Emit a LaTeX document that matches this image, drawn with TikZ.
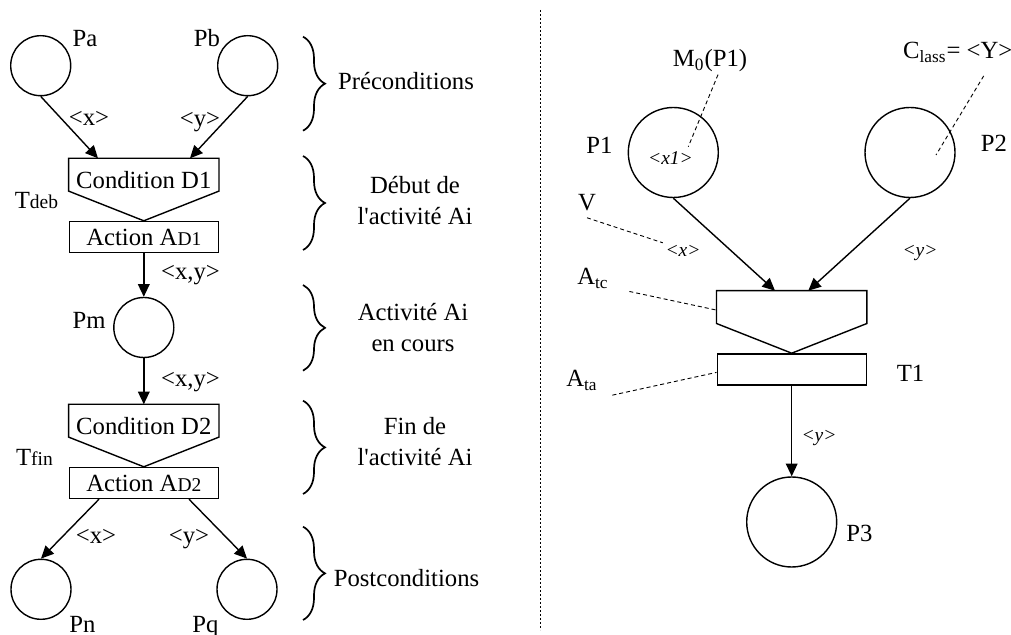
\documentclass[tikz,border=0pt]{standalone}
\usepackage{fontspec}
\setmainfont{Liberation Serif}
\usetikzlibrary{arrows.meta,positioning,decorations.pathreplacing}
\newcommand{\petit}{\fontsize{9.75}{11}\selectfont}

\begin{document}
\begin{tikzpicture}[x=0.5pt,y=-0.5pt,line width=0.7pt,
        font=\fontsize{12.35}{15.5}\selectfont,
        place/.style={draw,circle,inner sep=0pt,minimum size=30pt},
        bigplace/.style={draw,circle,inner sep=0pt,minimum size=45pt},
        cond/.style={anchor=north,inner sep=0pt,minimum width=74.5pt,text height=14.8pt,text depth=0.9pt},
        action/.style={draw,inner sep=0pt,minimum width=74.5pt,minimum height=15.5pt},
        txt/.style={anchor=base,inner sep=1pt},
        val/.style={anchor=base,inner sep=1pt,font=\petit\itshape},
        flow/.style={-{Triangle[length=6.3pt,width=5.8pt]}},
        dline/.style={line width=0.45pt,dash pattern=on 2pt off 1.5pt},
        brc/.style={line width=0.85pt,decorate,decoration={brace,amplitude=11pt}}]
        \useasboundingbox (0,0) rectangle (1011,635);
        \draw (40.7,65.7)  node[place] (pa) {};
        \draw (247.7,65.7) node[place] (pb) {};
        \draw (143.8,327.5) node[place] (pm) {};
        \draw (41,589.3)   node[place] (pn) {};
        \draw (247,589.3)  node[place] (pq) {};
        \node[cond] (cd1) at (143.8,158.3) {Condition D1};
        \node[action,below=14.85pt of cd1] (ad1) {Action A{\petit D1}};
        \node[cond] (cd2) at (143.8,404.3) {Condition D2};
        \node[action,below=14.85pt of cd2] (ad2) {Action A{\petit D2}};
        \node[txt] (lpa) at (85,47) {Pa};
        \node[txt] (lpb) at (207,47) {Pb};
        \node[txt] (lpm) at (89,328.5) {Pm};
        \node[txt] (lpn) at (82.5,632) {Pn};
        \node[txt] (lpq) at (205.5,632) {Pq};
        \node[txt] (tdeb) at (36.5,208.3) {T{\petit deb}};
        \node[txt] (tfin) at (34.5,465.7) {T{\petit fin}};
        \node[txt] (lxa) at (89,126) {<x>};
        \node[txt] (lya) at (200,127) {<y>};
        \node[txt] (lxy1) at (190.5,279.5) {<x,y>};
        \node[txt] (lxy2) at (190.5,386.5) {<x,y>};
        \node[txt] (lxn) at (96,543.5) {<x>};
        \node[txt] (lyq) at (189,543.5) {<y>};
        \draw[flow] (pa.south) -- ([xshift=-22.9pt]cd1.north);
        \draw[flow] (pb.south) -- ([xshift=23.1pt]cd1.north);
        \draw (cd1.south west) -- (cd1.north west) -- (cd1.north east) -- (cd1.south east) -- (ad1.north) -- cycle;
        \draw[flow] (ad1.south) -- (pm.north);
        \draw[flow] (pm.south) -- (cd2.north);
        \draw (cd2.south west) -- (cd2.north west) -- (cd2.north east) -- (cd2.south east) -- (ad2.north) -- cycle;
        \draw[flow] ([xshift=-22.4pt]ad2.south) -- (pn.north);
        \draw[flow] ([xshift=22.6pt]ad2.south) -- (pq.north);
        \draw[brc] (303,36.7) -- (303,130.7);
        \draw[brc] (303,156) -- (303,250);
        \draw[brc] (303,285) -- (303,370.7);
        \draw[brc] (303,400.7) -- (303,494);
        \draw[brc] (303,526.7) -- (303,620);
        \node[txt] (pre) at (406,90) {Préconditions};
        \node[align=center] (deb) at (415,200.6) {Début de\\l\textquotesingle activité Ai};
        \node[align=center] (enc) at (413,327.3) {Activité Ai\\en cours};
        \node[align=center] (fin) at (415,442) {Fin de\\l\textquotesingle activité Ai};
        \node[txt] (post) at (406.5,586) {Postconditions};
        \draw[line width=0.5pt,dash pattern=on 1.2pt off 0.8pt] (540,10) -- (540,630);
        \draw (673.3,152.5) node[bigplace] (p1) {};
        \draw (910,152.5)   node[bigplace] (p2) {};
        \draw (791.7,522)   node[bigplace] (p3) {};
        \node[cond] (ct1) at (791.7,290.7) {};
        \node[action,below=14.85pt of ct1] (at1) {};
        \node[txt] (m0) at (710,66.7) {M\textsubscript{0}(P1)};
        \node[txt] (cls) at (957.7,58.3) {C\textsubscript{lass}= <Y>};
        \node[txt] (lp1) at (599.5,153.5) {P1};
        \node[txt] (lp2) at (994,152) {P2};
        \node[val] (x1) at (670.5,165) {<x1>};
        \node[txt] (vlab) at (587,210.7) {V};
        \node[val] (lx) at (683,256.7) {<x>};
        \node[val] (ly) at (920,256.7) {<y>};
        \node[txt] (atc) at (593,285) {A\textsubscript{tc}};
        \node[txt] (ata) at (582,386.7) {A\textsubscript{ta}};
        \node[txt] (lt1) at (910.5,381.7) {T1};
        \node[val] (ly3) at (819,441.7) {<y>};
        \node[txt] (lp3) at (859.5,541.7) {P3};
        \coordinate (m0end) at (688.3,146.7);
        \coordinate (clsend) at (936,155);
        \draw[flow] (p1.south) -- ([xshift=-8.35pt]ct1.north);
        \draw[flow] (p2.south) -- ([xshift=8.3pt]ct1.north);
        \draw (ct1.south west) -- (ct1.north west) -- (ct1.north east) -- (ct1.south east) -- (at1.north) -- cycle;
        \draw[flow] (at1.south) -- (p3.north);
        \draw[dline] ([xshift=4pt]m0.south) -- (m0end);
        \draw[dline] ([shift={(26,11)}]cls.south) -- (clsend);
        \draw[dline] ([shift={(0,4)}]vlab.south) -- (lx.north west);
        \draw[dline] ([xshift=9pt]atc.south east) -- ([yshift=-1.5pt]ct1.west);
        \draw[dline] ([shift={(12,2)}]ata.south east) -- ([yshift=-1.5pt]at1.west);
\end{tikzpicture}
\end{document}
